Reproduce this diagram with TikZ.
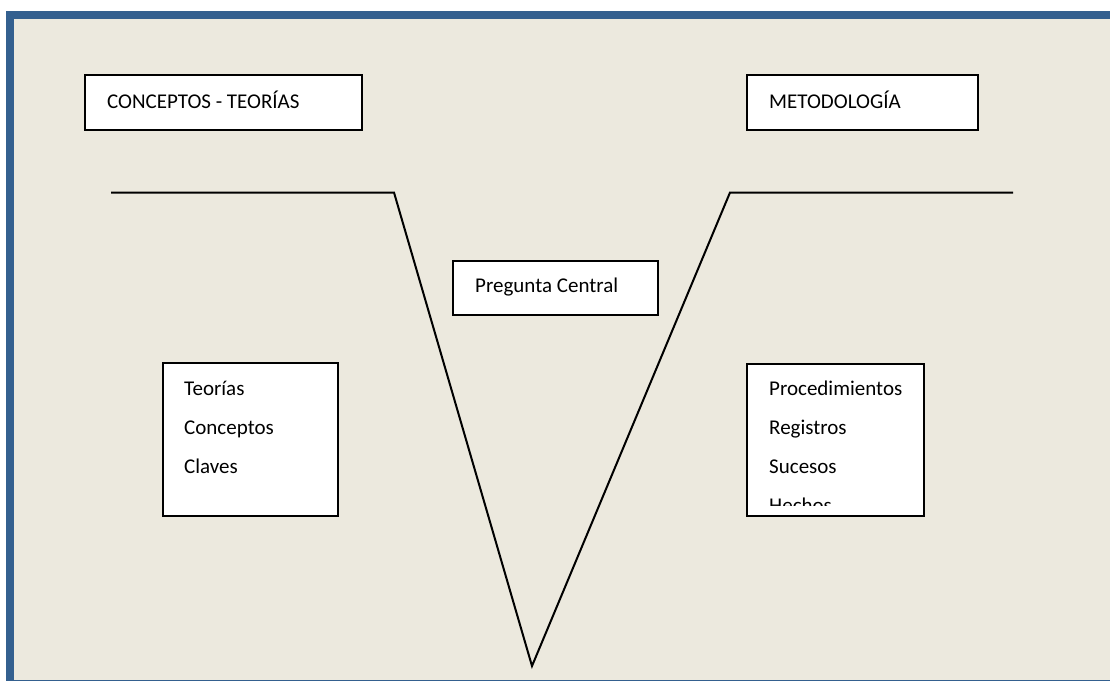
\documentclass[tikz,border=0pt]{standalone}
\usepackage{fontspec}
\setmainfont{Carlito}
\definecolor{frameblue}{HTML}{34608F}
\definecolor{paper}{HTML}{ECE9DE}
\tikzset{
  box/.style={draw=black, line width=2pt, fill=white, rectangle, inner sep=0pt},
  lbl/.style={anchor=base west, inner sep=0pt, font=\fontsize{21}{25}\selectfont},
  vline/.style={draw=black, line width=2pt, line join=miter}
}
\begin{document}
\begin{tikzpicture}[x=1pt,y=-1pt]
\useasboundingbox (0,0) rectangle (1110,681);
\fill[white] (0,0) rectangle (1110,681);
\fill[paper] (14,19) rectangle (1110,680);
\fill[frameblue] (6,10.5) rectangle (1110,19);
\fill[frameblue] (6,10.5) rectangle (14,681);
\fill[frameblue] (6,679.7) rectangle (1110,681);
% boxes
\node[box, minimum width=277pt, minimum height=55pt] (ct) at (223.5,102.5) {};
\node[box, minimum width=231pt, minimum height=55pt] (met) at (862.5,102.5) {};
\node[box, minimum width=205pt, minimum height=54pt] (pc) at (555.5,288) {};
\node[box, minimum width=175pt, minimum height=153pt] (teo) at (250.5,439.5) {};
\node[box, minimum width=177pt, minimum height=152pt] (proc) at (835.5,440) {};
% texts
\node[lbl] (tct) at (107,108) {CONCEPTOS - TEORÍAS};
\node[lbl] (tmet) at (769,108) {METODOLOGÍA};
\node[lbl] (tpc) at (475,292) {Pregunta Central};
\node[lbl] (t1) at (184,395) {Teorías};
\node[lbl] (t2) at (184,434) {Conceptos};
\node[lbl] (t3) at (184,473) {Claves};
\node[lbl] (p1) at (769,395) {Procedimientos};
\node[lbl] (p2) at (769,434) {Registros};
\node[lbl] (p3) at (769,473) {Sucesos};
\begin{scope}
\clip (750,366) rectangle (922,505.5);
\node[lbl] (p4) at (769,512) {Hechos};
\end{scope}
% V shape
\coordinate (a) at (111,192.5);
\coordinate (b) at (394,192.5);
\coordinate (c) at (532,666);
\coordinate (d) at (730,192.5);
\coordinate (e) at (1013,192.5);
\draw[vline] (a) -- (b) -- (c) -- (d) -- (e);
\end{tikzpicture}
\end{document}
